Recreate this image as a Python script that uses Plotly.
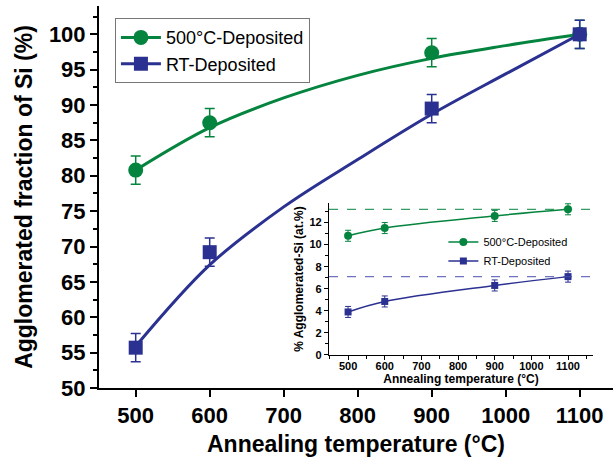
import plotly.graph_objects as go

# ---- data ----
temps = [500, 600, 900, 1100]
green_frac = [80.8, 87.5, 97.4, 100.0]
blue_frac = [55.7, 69.2, 89.5, 100.0]
frac_err = [2.0, 2.0, 2.0, 2.0]

fit_temps = [500, 600, 700, 800, 900, 1000, 1100]
green_fit = [80.8, 86.8, 91.0, 94.2, 96.6, 98.4, 100.0]
blue_fit = [55.9, 67.4, 75.6, 82.3, 88.7, 94.4, 100.0]

inset_green = [10.8, 11.5, 12.6, 13.2]
inset_blue = [3.9, 4.85, 6.3, 7.1]
inset_err = [0.5, 0.5, 0.5, 0.5]

labels = ["500°C-Deposited", "RT-Deposited"]

GREEN = "#05843f"
BLUE = "#2b3190"
FONT = "Liberation Sans, Arial, sans-serif"

fig = go.Figure()

# main fit curves
fig.add_trace(go.Scatter(x=fit_temps, y=green_fit, mode="lines", line=dict(color=GREEN, width=3, shape="spline"),
                         showlegend=False, xaxis="x", yaxis="y"))
fig.add_trace(go.Scatter(x=fit_temps, y=blue_fit, mode="lines", line=dict(color=BLUE, width=3, shape="spline"),
                         showlegend=False, xaxis="x", yaxis="y"))
# main points
fig.add_trace(go.Scatter(x=temps, y=green_frac, mode="markers",
                         marker=dict(symbol="circle", size=15, color=GREEN),
                         error_y=dict(type="data", array=frac_err, color=GREEN, thickness=1.5, width=5),
                         showlegend=False, xaxis="x", yaxis="y"))
fig.add_trace(go.Scatter(x=temps, y=blue_frac, mode="markers",
                         marker=dict(symbol="square", size=14, color=BLUE),
                         error_y=dict(type="data", array=frac_err, color=BLUE, thickness=1.5, width=5),
                         showlegend=False, xaxis="x", yaxis="y"))
# main legend entries
fig.add_trace(go.Scatter(x=[None], y=[None], mode="lines+markers", name=labels[0],
                         line=dict(color=GREEN, width=3), marker=dict(symbol="circle", size=15, color=GREEN),
                         legend="legend", xaxis="x", yaxis="y"))
fig.add_trace(go.Scatter(x=[None], y=[None], mode="lines+markers", name=labels[1],
                         line=dict(color=BLUE, width=3), marker=dict(symbol="square", size=14, color=BLUE),
                         legend="legend", xaxis="x", yaxis="y"))

# inset
fig.add_trace(go.Scatter(x=temps, y=inset_green, mode="lines+markers", name=labels[0],
                         line=dict(color=GREEN, width=1.5, shape="spline"),
                         marker=dict(symbol="circle", size=8, color=GREEN),
                         error_y=dict(type="data", array=inset_err, color=GREEN, thickness=1, width=3),
                         legend="legend2", xaxis="x2", yaxis="y2"))
fig.add_trace(go.Scatter(x=temps, y=inset_blue, mode="lines+markers", name=labels[1],
                         line=dict(color=BLUE, width=1.5, shape="spline"),
                         marker=dict(symbol="square", size=7, color=BLUE),
                         error_y=dict(type="data", array=inset_err, color=BLUE, thickness=1, width=3),
                         legend="legend2", xaxis="x2", yaxis="y2"))

# dashed saturation lines in inset
fig.add_shape(type="line", xref="x2 domain", yref="y2", x0=0, x1=1, y0=inset_green[-1], y1=inset_green[-1],
              line=dict(color=GREEN, width=1.2, dash="dash"), opacity=0.8)
fig.add_shape(type="line", xref="x2 domain", yref="y2", x0=0, x1=1, y0=inset_blue[-1], y1=inset_blue[-1],
              line=dict(color="#4a50b0", width=1.2, dash="dash"), opacity=0.8)

tick_bold = dict(family=FONT, size=22, color="black", weight="bold")
inset_tick = dict(family=FONT, size=11, color="black", weight="bold")

main_x_range = [450.4, 1145]
main_y_range = [50, 104]
inset_x_range = [448, 1168]
inset_y_range = [0, 13.76]

NB = "\u00a0"

fig.update_layout(
    width=613, height=459,
    margin=dict(l=99, r=0, t=6, b=71),
    paper_bgcolor="white", plot_bgcolor="white",
    font=dict(family=FONT, color="black"),
    xaxis=dict(domain=[0, 1], range=main_x_range, anchor="y", tickmode="linear", tick0=500, dtick=100,
               ticks="outside", ticklen=7, tickwidth=2, tickcolor="black",
               showline=True, linewidth=2, linecolor="black", showgrid=False, zeroline=False,
               tickfont=tick_bold,
               title=dict(text="Annealing temperature (°C)", font=dict(family=FONT, size=23, weight="bold"), standoff=8)),
    xaxis3=dict(overlaying="x", side="top", range=main_x_range, anchor="y", tickmode="linear", tick0=500, dtick=100,
                ticks="inside", ticklen=7, tickwidth=2, tickcolor="black", showticklabels=False,
                minor=dict(ticks="inside", ticklen=4, tickwidth=1.5, tickcolor="black", dtick=50),
                showline=True, linewidth=2, linecolor="black", showgrid=False, zeroline=False),
    yaxis=dict(domain=[0, 1], range=main_y_range, anchor="x", tickmode="linear", tick0=50, dtick=5,
               ticks="outside", ticklen=7, tickwidth=2, tickcolor="black",
               minor=dict(ticks="outside", ticklen=4, tickwidth=1.5, tickcolor="black", dtick=2.5),
               showline=True, linewidth=2, linecolor="black", showgrid=False, zeroline=False,
               tickfont=tick_bold,
               title=dict(text="Agglomerated fraction of Si (%)" + NB * 4,
                          font=dict(family=FONT, size=23, weight="bold"), standoff=10)),
    yaxis3=dict(overlaying="y", side="right", range=main_y_range, anchor="x", tickmode="linear", tick0=50, dtick=5,
                ticks="inside", ticklen=6, tickwidth=2, tickcolor="black", showticklabels=False,
                showline=False, showgrid=False, zeroline=False),
    # inset axes
    xaxis2=dict(domain=[0.4475, 0.961], range=inset_x_range, anchor="y2", tickmode="linear", tick0=500, dtick=100,
                ticks="outside", ticklen=4, tickwidth=1.2, tickcolor="black",
                minor=dict(ticks="outside", ticklen=2.5, tickwidth=1, tickcolor="black", dtick=50),
                showline=True, linewidth=1.2, linecolor="black", showgrid=False, zeroline=False,
                tickfont=inset_tick, ticklabelstandoff=-3,
                title=dict(text="Annealing temperature (°C)", font=dict(family=FONT, size=12, weight="bold"), standoff=0)),
    xaxis4=dict(overlaying="x2", side="top", range=inset_x_range, anchor="y2", tickmode="linear", tick0=500, dtick=100,
                ticks="inside", ticklen=4, tickwidth=1.2, tickcolor="black", showticklabels=False,
                minor=dict(ticks="inside", ticklen=2.5, tickwidth=1, tickcolor="black", dtick=50),
                showline=True, linewidth=1.2, linecolor="black", showgrid=False, zeroline=False),
    yaxis2=dict(domain=[0.0864, 0.484], range=inset_y_range, anchor="x2", tickmode="linear", tick0=0, dtick=2,
                ticks="outside", ticklen=4, tickwidth=1.2, tickcolor="black",
                minor=dict(ticks="outside", ticklen=2.5, tickwidth=1, tickcolor="black", dtick=1),
                showline=True, linewidth=1.2, linecolor="black", showgrid=False, zeroline=False,
                tickfont=inset_tick,
                title=dict(text="% Agglomerated-Si (at.%)", font=dict(family=FONT, size=12, weight="bold"), standoff=3)),
    yaxis4=dict(overlaying="y2", side="right", range=inset_y_range, anchor="x2", tickmode="linear", tick0=0, dtick=2,
                ticks="inside", ticklen=4, tickwidth=1.2, tickcolor="black", showticklabels=False,
                minor=dict(ticks="inside", ticklen=2.5, tickwidth=1, tickcolor="black", dtick=1),
                showline=True, linewidth=1.2, linecolor="black", showgrid=False, zeroline=False),
    legend=dict(x=0.031, y=0.968, xanchor="left", yanchor="top", bgcolor="white",
                bordercolor="#777777", borderwidth=1, font=dict(family=FONT, size=18, color="black"),
                itemwidth=40, tracegroupgap=0),
    legend2=dict(x=0.67, y=0.42, xanchor="left", yanchor="top", bgcolor="rgba(0,0,0,0)",
                 borderwidth=0, font=dict(family=FONT, size=11, color="black"), itemwidth=30),
    showlegend=True,
)

fig.write_html("out.html", config={"displayModeBar": False},
               post_script="document.body.style.margin='0';document.body.style.padding='0';")
